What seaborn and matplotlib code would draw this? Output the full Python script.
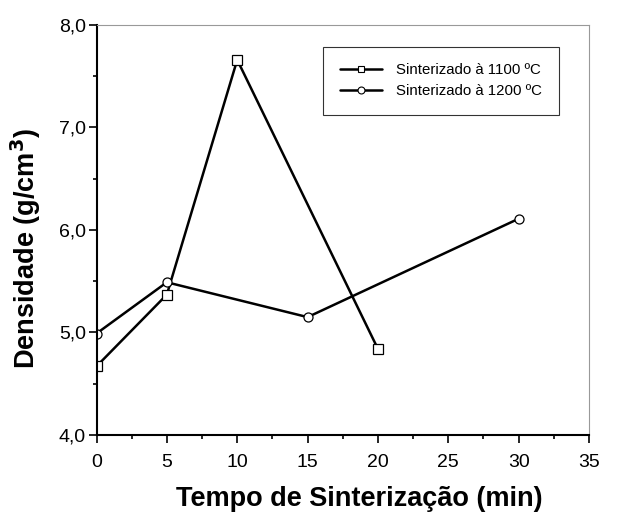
import matplotlib
matplotlib.use("Agg")
import matplotlib.pyplot as plt
import seaborn as sns
import pandas as pd
from matplotlib.ticker import MultipleLocator, FuncFormatter
from matplotlib.lines import Line2D

sns.set_style("ticks")
plt.rcParams['font.family'] = ['Liberation Sans', 'DejaVu Sans']
plt.rcParams['text.color'] = 'black'
plt.rcParams['axes.labelcolor'] = 'black'

tempo_1100 = [0, 5, 10, 20]
dens_1100 = [4.67, 5.37, 7.66, 4.84]
tempo_1200 = [0, 5, 15, 30]
dens_1200 = [4.99, 5.49, 5.15, 6.11]
labels = ["Sinterizado à 1100 ºC", "Sinterizado à 1200 ºC"]

df = pd.concat([
    pd.DataFrame({"t": tempo_1100, "d": dens_1100, "s": labels[0]}),
    pd.DataFrame({"t": tempo_1200, "d": dens_1200, "s": labels[1]}),
])

fig = plt.figure(figsize=(6.27, 5.14), dpi=100)
ax = fig.add_axes([96.5/627, 1-435/514, (589-96.5)/627, (435-25)/514])

sns.lineplot(data=df, x="t", y="d", hue="s", style="s",
             palette=["black", "black"], markers=["s", "o"], dashes=False,
             markerfacecolor="white", markeredgecolor="black", markeredgewidth=0.9,
             markersize=6.5, linewidth=1.8, ax=ax, legend=False, sort=False)

ax.set_xlim(0, 35)
ax.set_ylim(4.0, 8.0)
ax.xaxis.set_major_locator(MultipleLocator(5))
ax.xaxis.set_minor_locator(MultipleLocator(2.5))
ax.yaxis.set_major_locator(MultipleLocator(1))
ax.yaxis.set_minor_locator(MultipleLocator(0.5))
ax.yaxis.set_major_formatter(FuncFormatter(lambda v, p: f"{v:.1f}".replace(".", ",")))
ax.tick_params(axis="both", which="major", direction="out", length=6, width=1.2,
               labelsize=14, colors="black")
ax.tick_params(axis="y", which="major", pad=1.5)
ax.tick_params(axis="x", which="major", pad=8)
ax.tick_params(axis="both", which="minor", direction="out", length=3, width=1.2, colors="black")

for s in ["left", "bottom"]:
    ax.spines[s].set_linewidth(1.5)
    ax.spines[s].set_color("black")
for s in ["top", "right"]:
    ax.spines[s].set_visible(True)
    ax.spines[s].set_linewidth(0.8)
    ax.spines[s].set_color("#999999")

ax.set_xlabel("Tempo de Sinterização (min)", fontsize=19.5, fontweight="bold", color="black")
ax.xaxis.set_label_coords(0.533, -0.125)
ax.set_ylabel("Densidade (g/cm$\\mathbf{^3}$)", fontsize=19.5, fontweight="bold", color="black")
ax.yaxis.set_label_coords(-0.109, 0.455)

handles = [
    Line2D([], [], color="black", lw=1.8, marker="s", markerfacecolor="white",
           markeredgecolor="black", markersize=4.5, markeredgewidth=0.8),
    Line2D([], [], color="black", lw=1.8, marker="o", markerfacecolor="white",
           markeredgecolor="black", markersize=5, markeredgewidth=0.8),
]
leg = ax.legend(handles, labels, loc="upper left",
                bbox_to_anchor=((323-96.5)/492.5, 1-(47-25)/410),
                fontsize=10.8, frameon=True, fancybox=False, edgecolor="black",
                borderpad=1.1, handlelength=2.8, handletextpad=1.0, labelspacing=0.45,
                borderaxespad=0)
leg.get_frame().set_linewidth(0.8)
for t in leg.get_texts():
    t.set_color("black")

fig.savefig("out.png", dpi=100)
